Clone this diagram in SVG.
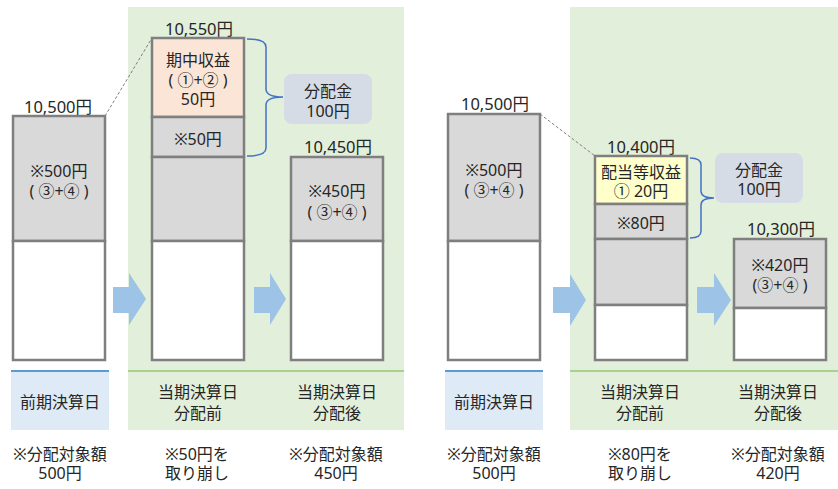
<svg xmlns="http://www.w3.org/2000/svg" width="838" height="489" viewBox="0 0 838 489">
<style>
text{font-family:'Noto Sans','Noto Sans CJK JP',sans-serif;font-size:16px;fill:#262626;text-anchor:middle}
.v{font-size:16.5px}
.bar{stroke:#7f7f7f;stroke-width:2.5}
.g{fill:#d9d9d9}
.w{fill:#ffffff}
.o{fill:#fbe5d6}
.y{fill:#ffffcc}
.arr{fill:#9dc3e6}
.brace{fill:none;stroke:#4472c4;stroke-width:1.5}
.dash{stroke:#7f7f7f;stroke-width:1;stroke-dasharray:3 2;fill:none}
.pill{fill:#d6dce5}
</style>
<rect width="838" height="489" fill="#ffffff"/>
<g id="backgrounds">
<rect x="128" y="7" width="276" height="423" fill="#e2efda"/>
<rect x="570" y="7" width="268" height="423" fill="#e2efda"/>
<line x1="128" y1="371" x2="404" y2="371" stroke="#a9d18e" stroke-width="2"/>
<line x1="570" y1="371" x2="838" y2="371" stroke="#a9d18e" stroke-width="2"/>
<rect x="11" y="371" width="98" height="59" fill="#deebf7"/>
<line x1="11" y1="371" x2="109" y2="371" stroke="#5b9bd5" stroke-width="2"/>
<rect x="445" y="371" width="98" height="59" fill="#deebf7"/>
<line x1="445" y1="371" x2="543" y2="371" stroke="#5b9bd5" stroke-width="2"/>
</g>
<g id="connectors">
<line class="dash" x1="105" y1="116" x2="152" y2="38"/>
<line class="dash" x1="540" y1="114" x2="595" y2="156"/>
<path class="arr" d="M113,287 H129 V273 L146,299 L129,325 V313 H113 Z"/>
<path class="arr" d="M254,287 H270 V273 L286,299 L270,325 V313 H254 Z"/>
<path class="arr" d="M553,287 H570 V274 L586,300 L570,326 V313 H553 Z"/>
<path class="arr" d="M697,287 H714 V273 L731,300 L714,326 V313 H697 Z"/>
<path class="brace" d="M247,39 Q266,39 266,47 V89 Q266,97 283,97 Q266,97 266,105 V148 Q266,156 247,156"/>
<path class="brace" d="M690,158 Q701,158 701,165 V191 Q701,198 714,198 Q701,198 701,205 V231 Q701,238 690,238"/>
</g>
<g id="L-bar1">
<text class="v" x="58" y="113">10,500円</text>
<rect class="bar g" x="13" y="116" width="92" height="125"/>
<rect class="bar w" x="13" y="241" width="92" height="119"/>
<text x="59" y="177">※500円</text>
<text x="59" y="197">( ③+④ )</text>
</g>
<g id="L-bar2">
<text class="v" x="199" y="35">10,550円</text>
<rect class="bar o" x="152" y="38" width="92" height="79"/>
<rect class="bar g" x="152" y="117" width="92" height="40"/>
<rect class="bar g" x="152" y="157" width="92" height="84"/>
<rect class="bar w" x="152" y="241" width="92" height="119"/>
<text x="198" y="66">期中収益</text>
<text x="198" y="86">( ①+② )</text>
<text x="198" y="105">50円</text>
<text x="198" y="145">※50円</text>
</g>
<g id="L-pill">
<rect class="pill" x="284" y="74" width="88" height="50" rx="8"/>
<text x="328" y="97">分配金</text>
<text x="328" y="117">100円</text>
</g>
<g id="L-bar3">
<text class="v" x="338" y="153">10,450円</text>
<rect class="bar g" x="291" y="157" width="92" height="84"/>
<rect class="bar w" x="291" y="241" width="92" height="119"/>
<text x="337" y="197">※450円</text>
<text x="337" y="218">( ③+④ )</text>
</g>
<g id="L-labels">
<text x="60" y="408">前期決算日</text>
<text x="198" y="398">当期決算日</text>
<text x="198" y="419">分配前</text>
<text x="337" y="398">当期決算日</text>
<text x="337" y="419">分配後</text>
<text x="60" y="460">※分配対象額</text>
<text x="60" y="479">500円</text>
<text x="197" y="460">※50円を</text>
<text x="197" y="479">取り崩し</text>
<text x="336" y="460">※分配対象額</text>
<text x="336" y="479">450円</text>
</g>
<g id="R-bar1">
<text class="v" x="495" y="110">10,500円</text>
<rect class="bar g" x="448" y="114" width="92" height="127"/>
<rect class="bar w" x="448" y="241" width="92" height="119"/>
<text x="494" y="176">※500円</text>
<text x="494" y="196">( ③+④ )</text>
</g>
<g id="R-bar2">
<text class="v" x="641" y="153">10,400円</text>
<rect class="bar y" x="595" y="156" width="92" height="48"/>
<rect class="bar g" x="595" y="204" width="92" height="35"/>
<rect class="bar g" x="595" y="239" width="92" height="66"/>
<rect class="bar w" x="595" y="305" width="92" height="55"/>
<text x="641" y="178">配当等収益</text>
<text x="641" y="197">① 20円</text>
<text x="641" y="229">※80円</text>
</g>
<g id="R-pill">
<rect class="pill" x="715" y="153" width="88" height="50" rx="8"/>
<text x="759" y="176">分配金</text>
<text x="759" y="195">100円</text>
</g>
<g id="R-bar3">
<text class="v" x="781" y="235">10,300円</text>
<rect class="bar g" x="734" y="239" width="92" height="69"/>
<rect class="bar w" x="734" y="308" width="92" height="52"/>
<text x="780" y="271">※420円</text>
<text x="780" y="291">(③+④ )</text>
</g>
<g id="R-labels">
<text x="494" y="408">前期決算日</text>
<text x="640" y="398">当期決算日</text>
<text x="640" y="419">分配前</text>
<text x="778" y="398">当期決算日</text>
<text x="778" y="419">分配後</text>
<text x="494" y="460">※分配対象額</text>
<text x="494" y="479">500円</text>
<text x="640" y="460">※80円を</text>
<text x="640" y="479">取り崩し</text>
<text x="778" y="460">※分配対象額</text>
<text x="778" y="479">420円</text>
</g>
</svg>
